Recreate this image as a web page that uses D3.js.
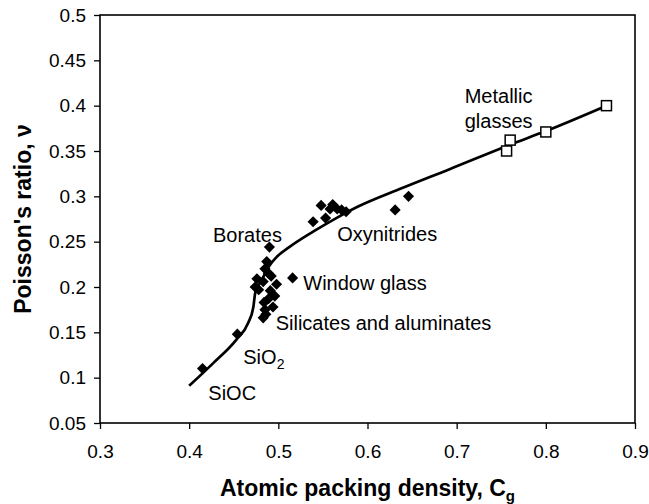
<!DOCTYPE html>
<html lang="en">
<head>
  <meta charset="UTF-8">
  <title>Poisson's ratio vs packing density</title>
  <script src="https://d3js.org/d3.v7.min.js"></script>
  <style>
    body { margin: 0; background: white; }
    text { font-family: "Liberation Sans", Arial, sans-serif; fill: black; }
    .tick text { font-size: 19px; }
    .tick line { stroke: black; stroke-width: 1.3px; }
    .frame { fill: none; stroke: black; stroke-width: 1.6px; }
    .fit { fill: none; stroke: black; stroke-width: 2.7px; }
    .title { font-size: 23px; font-weight: bold; }
    .note { font-size: 20px; }
  </style>
</head>
<body>
  <svg id="chart" width="649" height="504"></svg>
  <script>
    // glasses (filled diamonds)
    const glassX = [0.415, 0.454, 0.490, 0.487, 0.485, 0.489, 0.476, 0.483, 0.474, 0.478, 0.492, 0.498,
      0.491, 0.496, 0.489, 0.484, 0.494, 0.485, 0.486, 0.483, 0.516,
      0.539, 0.548, 0.553, 0.558, 0.561, 0.566, 0.571, 0.576, 0.631, 0.646];
    const glassY = [0.110, 0.148, 0.244, 0.228, 0.220, 0.215, 0.209, 0.206, 0.200, 0.197, 0.212, 0.203,
      0.196, 0.190, 0.187, 0.183, 0.178, 0.175, 0.170, 0.166, 0.210,
      0.272, 0.290, 0.276, 0.286, 0.291, 0.286, 0.285, 0.283, 0.285, 0.300];
    // metallic glasses (open squares)
    const metalX = [0.868, 0.800, 0.760, 0.756];
    const metalY = [0.400, 0.371, 0.362, 0.350];
    // fitted curve
    const fitX = [0.400, 0.427, 0.453, 0.466, 0.472, 0.474, 0.478, 0.483, 0.489, 0.498, 0.513,
      0.539, 0.565, 0.590, 0.636, 0.692, 0.760, 0.800, 0.868];
    const fitY = [0.091, 0.116, 0.142, 0.160, 0.178, 0.193, 0.202, 0.211, 0.222, 0.233, 0.2445,
      0.261, 0.276, 0.289, 0.308, 0.330, 0.357, 0.372, 0.400];
    // annotations
    const noteText = ["Metallic", "glasses", "Oxynitrides", "Borates", "Window glass",
      "Silicates and aluminates", "SiO", "SiOC"];
    const noteX = [0.709, 0.709, 0.566, 0.4267, 0.528, 0.497, 0.4607, 0.4215];
    const noteY = [0.4026, 0.375, 0.2511, 0.250, 0.1967, 0.1526, 0.1151, 0.0754];
    const xTicks = [0.3, 0.4, 0.5, 0.6, 0.7, 0.8, 0.9];
    const yTicks = [0.05, 0.1, 0.15, 0.2, 0.25, 0.3, 0.35, 0.4, 0.45, 0.5];

    const svg = d3.select("#chart");
    const margin = { top: 15, right: 14, bottom: 81, left: 100 };
    const w = 649 - margin.left - margin.right;
    const h = 504 - margin.top - margin.bottom;
    const g = svg.append("g")
      .attr("transform", "translate(" + margin.left + "," + margin.top + ")");

    const x = d3.scaleLinear().domain([0.3, 0.9]).range([0, w]);
    const y = d3.scaleLinear().domain([0.05, 0.5]).range([h, 0]);
    const fmt = d => String(+d.toFixed(2));

    g.append("g")
      .attr("transform", "translate(0," + h + ")")
      .call(d3.axisBottom(x).tickValues(xTicks).tickFormat(fmt).tickSize(6).tickPadding(16))
      .call(a => a.select(".domain").remove());
    g.append("g")
      .call(d3.axisLeft(y).tickValues(yTicks).tickFormat(fmt).tickSize(6).tickPadding(8))
      .call(a => a.select(".domain").remove());

    g.append("rect").attr("class", "frame")
      .attr("x", 0).attr("y", 0).attr("width", w).attr("height", h);

    const line = d3.line()
      .x(i => x(fitX[i]))
      .y(i => y(fitY[i]))
      .curve(d3.curveMonotoneX);
    g.append("path").attr("class", "fit").attr("d", line(d3.range(fitX.length)));

    const diamond = d3.symbol(d3.symbolSquare, 62);
    g.selectAll(".glass").data(d3.range(glassX.length))
      .join("path")
      .attr("class", "glass")
      .attr("d", diamond)
      .attr("fill", "black")
      .attr("transform", i => "translate(" + x(glassX[i]) + "," + y(glassY[i]) + ") rotate(45)");

    g.selectAll(".metal").data(d3.range(metalX.length))
      .join("rect")
      .attr("class", "metal")
      .attr("x", i => x(metalX[i]) - 5)
      .attr("y", i => y(metalY[i]) - 5)
      .attr("width", 10).attr("height", 10)
      .attr("fill", "white").attr("stroke", "black").attr("stroke-width", 1.5);

    const notes = g.selectAll(".note").data(d3.range(noteText.length))
      .join("text")
      .attr("class", "note")
      .attr("x", i => x(noteX[i]))
      .attr("y", i => y(noteY[i]))
      .text(i => noteText[i]);
    // subscript for SiO2
    notes.filter(i => noteText[i] === "SiO")
      .append("tspan").attr("dy", 5).attr("font-size", "14px").text("2");

    svg.append("text").attr("class", "title")
      .attr("x", margin.left + w / 2).attr("y", 496)
      .attr("text-anchor", "middle")
      .text("Atomic packing density, C")
      .append("tspan").attr("dy", 5).attr("font-size", "15px").text("g");

    svg.append("text").attr("class", "title")
      .attr("transform", "translate(31," + (margin.top + h / 2) + ") rotate(-90)")
      .attr("text-anchor", "middle")
      .text("Poisson's ratio, \u03bd");
  </script>
</body>
</html>
